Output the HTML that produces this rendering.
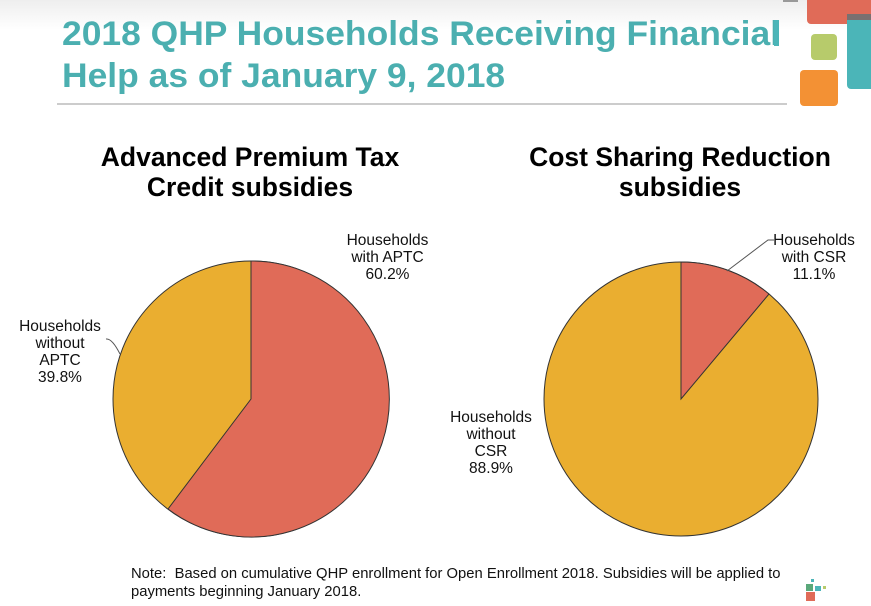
<!DOCTYPE html>
<html><head><meta charset="utf-8"><style>
body{margin:0;width:871px;height:606px;overflow:hidden;background:#fff;font-family:"Liberation Sans",sans-serif;position:relative}
.t{position:absolute;left:62px;top:13px;color:#4BAFB0;font-size:34px;font-weight:bold;line-height:42px;white-space:nowrap;transform-origin:0 0}
.h{position:absolute;font-size:26.5px;font-weight:bold;line-height:30px;text-align:center;color:#000;white-space:nowrap}
.l{position:absolute;font-size:15.5px;line-height:17px;text-align:center;color:#111;white-space:nowrap}
.note{position:absolute;left:131px;top:565px;font-size:14.8px;line-height:18px;color:#111;white-space:nowrap}
</style></head><body>
<div style="position:absolute;left:0;top:0;width:871px;height:30px;background:linear-gradient(#eee,#fff)"></div>
<div class="t" id="t">2018 QHP Households Receiving Financial<br>Help as of January 9, 2018</div>
<div style="position:absolute;left:57px;top:103px;width:730px;height:2px;background:#ccc"></div>
<div style="position:absolute;left:783px;top:0;width:15px;height:2px;background:#999"></div>
<div style="position:absolute;left:774px;top:20px;width:5px;height:26px;background:#4BB5B8"></div>
<div style="position:absolute;left:807px;top:-6px;width:70px;height:30px;background:#E06B58;border-radius:4px"></div>
<div style="position:absolute;left:847px;top:14px;width:30px;height:75px;background:#4BB5B8;border-radius:4px"></div>
<div style="position:absolute;left:847px;top:14px;width:24px;height:6px;background:#7a7070"></div>
<div style="position:absolute;left:811px;top:34px;width:26px;height:26px;background:#B7CB6B;border-radius:4px"></div>
<div style="position:absolute;left:800px;top:70px;width:38px;height:36px;background:#F39134;border-radius:4px"></div>
<div class="h" style="left:60px;top:142px;width:380px">Advanced Premium Tax<br>Credit subsidies</div>
<div class="h" style="left:490px;top:142px;width:380px">Cost Sharing Reduction<br>subsidies</div>
<svg width="871" height="606" style="position:absolute;left:0;top:0">
<circle cx="251" cy="399" r="138" fill="#EAAE30" stroke="#333" stroke-width="1"/>
<path d="M251,399 L251,261 A138,138 0 1,1 168,509 Z" fill="#E06B58" stroke="#333" stroke-width="1"/>
<circle cx="681" cy="399" r="137" fill="#EAAE30" stroke="#333" stroke-width="1"/>
<path d="M681,399 L681,262 A137,137 0 0,1 769,294 Z" fill="#E06B58" stroke="#333" stroke-width="1"/>
<path d="M106,339 Q112,338 120,354" fill="none" stroke="#555" stroke-width="1"/>
<path d="M727,271 L768,240 L774,240" fill="none" stroke="#555" stroke-width="1"/>
<rect x="806" y="584" width="7" height="7" fill="#5aa87a"/><rect x="815" y="586" width="6" height="5" fill="#4BB5B8"/><rect x="823" y="586" width="3" height="3" fill="#B7CB6B"/><rect x="806" y="592" width="9" height="9" fill="#E06B58"/><rect x="811" y="579" width="3" height="3" fill="#4BB5B8"/>
</svg>
<div class="l" style="left:330px;top:232px;width:115px">Households<br>with APTC<br>60.2%</div>
<div class="l" style="left:5px;top:318px;width:110px">Households<br>without<br>APTC<br>39.8%</div>
<div class="l" style="left:759px;top:232px;width:110px">Households<br>with CSR<br>11.1%</div>
<div class="l" style="left:436px;top:409px;width:110px">Households<br>without<br>CSR<br>88.9%</div>
<div class="note">Note:&nbsp; Based on cumulative QHP enrollment for Open Enrollment 2018. Subsidies will be applied to<br>payments beginning January 2018.</div>
<script>
var t=document.getElementById('t');var w=t.scrollWidth;t.style.transform='scaleX('+(718/w)+')';
</script>
</body></html>
